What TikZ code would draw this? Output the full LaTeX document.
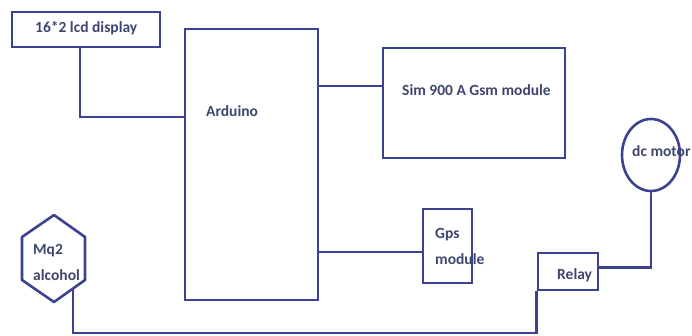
\documentclass[tikz,border=0pt]{standalone}
\usepackage{fontspec}
\setmainfont{Carlito}
\usetikzlibrary{calc,shapes.geometric}
\definecolor{linkblue}{HTML}{3B4290}
\definecolor{ink}{HTML}{3E4670}

\begin{document}
\begin{tikzpicture}[x=1pt, y=-1pt,
	box/.style={draw=linkblue, line width=2.6pt, rectangle, inner sep=0pt},
	link/.style={draw=linkblue, line width=2.6pt},
	lbl/.style={text=ink, font=\bfseries\fontsize{15.5}{26}\selectfont, inner sep=0pt, anchor=west, align=left}]
	\useasboundingbox (0,0) rectangle (692,335);

	% blocks
	\node[box, minimum width=148, minimum height=35] (lcd) at (86,29.5) {};
	\node[lbl] (lcdtxt) at (35,28) {16*2 lcd display};
	\node[box, minimum width=133, minimum height=271] (arduino) at (251.5,164.5) {};
	\node[lbl] (arduinotxt) at (206,111) {Arduino};
	\node[box, minimum width=182, minimum height=110] (sim) at (474,103) {};
	\node[lbl] (simtxt) at (402,90) {Sim 900 A Gsm module};
	\node[box, minimum width=49, minimum height=74] (gps) at (447.5,246) {};
	\node[lbl] (gpstxt) at (435,246) {Gps\\module};
	\node[box, minimum width=60, minimum height=37] (relay) at (568,271.5) {};
	\node[lbl] (relaytxt) at (557,275) {Relay};
	\node[draw=linkblue, line width=2.6pt, ellipse, minimum width=58, minimum height=72, inner sep=0pt] (motor) at (651,155) {};
	\node[lbl] (motortxt) at (632,151) {dc motor};

	% hexagon sensor
	\draw[link, line join=round] (54,215) -- (85,237) -- (85,280) -- (54,302) -- (22,280) -- (22,237) -- cycle;
	\node[lbl] (mqtxt) at (33,262) {Mq2\\alcohol};
	\coordinate (mqout) at (73,288.5);

	% wires
	\coordinate (lcdout) at ([xshift=-6pt]lcd.south);
	\draw[link] (lcdout) |- (arduino.west |- 0,117);
	\coordinate (simin) at ([yshift=17pt]sim.west);
	\draw[link] (simin) -- (simin -| arduino.east);
	\coordinate (gpsin) at ([yshift=-6pt]gps.west);
	\draw[link] (gpsin) -- (gpsin -| arduino.east);
	\coordinate (relayin) at ([yshift=4pt]relay.east);
	\draw[link] (motor.south) |- (relayin);
	\coordinate (busend) at (mqout |- 0,333);
	\draw[link] (mqout) -- (busend) -| (relay.south west);
\end{tikzpicture}
\end{document}
